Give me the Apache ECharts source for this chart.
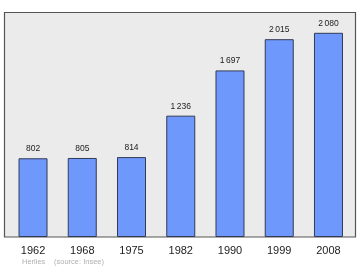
<!DOCTYPE html>
<html><head><meta charset="utf-8">
<script src="https://cdn.jsdelivr.net/npm/echarts@6/dist/echarts.min.js"></script>
<style>html,body{margin:0;padding:0;background:#fff}#c{width:360px;height:270px}</style>
</head><body><div id="c"></div>
<script>
const categories = ['1962','1968','1975','1982','1990','1999','2008'];
const population = [802, 805, 814, 1236, 1697, 2015, 2080];
const footerName = 'Herlies';
const footerSource = '(source: Insee)';

const fmt = v => String(v).replace(/\B(?=(\d{3})+(?!\d))/g, '\u2009');

const chart = echarts.init(document.getElementById('c'), null, {renderer: 'canvas'});
chart.setOption({
  animation: false,
  backgroundColor: '#ffffff',
  graphic: [
    {type: 'rect', z: -10, shape: {x: 4.5, y: 12.5, width: 351, height: 224.5},
     style: {fill: '#ebebeb', stroke: '#555555', lineWidth: 1.2}},
    {type: 'text', left: 22, top: 258, style: {text: footerName, fill: '#b0b0b0', font: '7.5px "Liberation Sans", Arial, sans-serif'}},
    {type: 'text', left: 54, top: 258, style: {text: footerSource, fill: '#b0b0b0', font: '7.5px "Liberation Sans", Arial, sans-serif'}}
  ],
  grid: {left: 8.4, right: 6.9, top: 12, bottom: 33, containLabel: false},
  xAxis: {
    type: 'category', data: categories,
    axisLine: {show: false}, axisTick: {show: false},
    axisLabel: {color: '#222', fontSize: 11, fontFamily: '"Liberation Sans", Arial, sans-serif', margin: 8}
  },
  yAxis: {
    type: 'value', min: 0, max: 2292,
    axisLine: {show: false}, axisTick: {show: false}, axisLabel: {show: false}, splitLine: {show: false}
  },
  series: [{
    type: 'bar', data: population, barWidth: 29,
    itemStyle: {color: '#6f98fc', borderColor: '#333a55', borderWidth: 1},
    label: {show: true, position: 'top', distance: 5, color: '#222', fontSize: 8.5,
      fontFamily: '"Liberation Sans", Arial, sans-serif', formatter: p => fmt(p.value)}
  }]
});
</script></body></html>
